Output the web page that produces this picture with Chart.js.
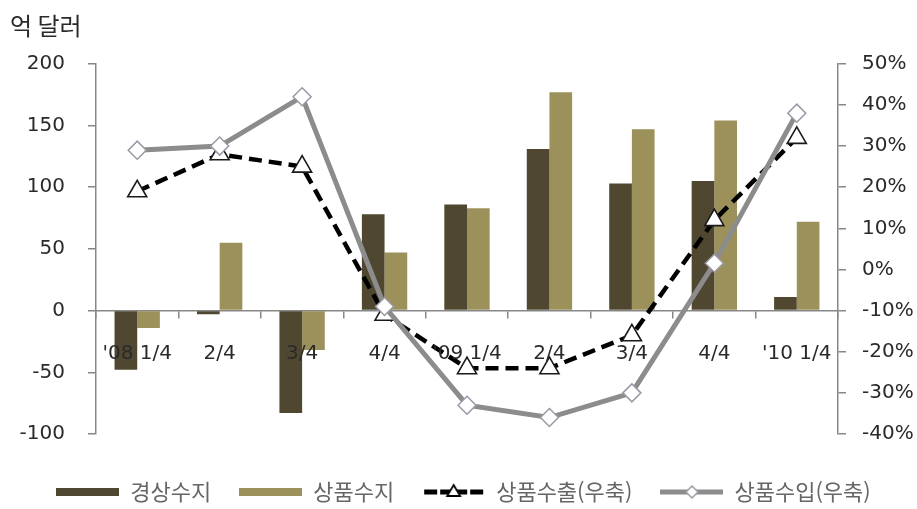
<!DOCTYPE html>
<html lang="ko">
<head>
<meta charset="utf-8">
<title>경상수지 · 상품수지 · 상품수출입</title>
<script src="https://cdn.jsdelivr.net/npm/chart.js@4.4.1/dist/chart.umd.min.js"></script>
<style>
  html, body { margin: 0; padding: 0; background: #ffffff; }
  #wrap { width: 917px; height: 509px; position: relative; }
</style>
</head>
<body>
<div id="wrap"><canvas id="chart" width="917" height="509"></canvas></div>
<script>
// Quarterly categories
const categories = ["'08 1/4", "2/4", "3/4", "4/4", "'09 1/4", "2/4", "3/4", "4/4", "'10 1/4"];

// Balances, 100 million USD (left axis)
const currentAccount = [-48, -3, -83, 78, 86, 131, 103, 105, 11];
const goodsBalance = [-14, 55, -32, 47, 83, 177, 147, 154, 72];

// Year-on-year growth, % (right axis)
const exportsGrowth = [19, 28, 25, -11, -24, -24, -16, 12, 32];
const importsGrowth = [29, 30, 42, -9, -33, -36, -30, 1.5, 38];

// Axis tick settings
const leftTicks = { min: -100, max: 200, step: 50 };
const rightTicks = { min: -40, max: 50, step: 10 };

const seriesNames = ['경상수지', '상품수지', '상품수출(우축)', '상품수입(우축)'];

const DARK = '#4f4730';
const LIGHT = '#9d915b';
const GRAY = '#8c8c8c';
const AXIS = '#878787';
const TEXT = '#2a2a2a';
const KFONT = "'Noto Sans CJK KR', 'Noto Sans', sans-serif";
const NFONT = "'DejaVu Sans', sans-serif";

// Small legend symbols
function barSymbol(color) {
  const c = document.createElement('canvas');
  c.width = 63; c.height = 20;
  const g = c.getContext('2d');
  g.fillStyle = color;
  g.fillRect(0, 6, 63, 8);
  return c;
}
function exportSymbol() {
  const c = document.createElement('canvas');
  c.width = 63; c.height = 20;
  const g = c.getContext('2d');
  g.strokeStyle = '#000';
  g.lineWidth = 5;
  g.beginPath(); g.moveTo(2, 10); g.lineTo(15, 10); g.stroke();
  g.beginPath(); g.moveTo(48, 10); g.lineTo(61, 10); g.stroke();
  g.beginPath(); g.moveTo(18, 10); g.lineTo(45, 10); g.stroke();
  g.fillStyle = '#fff';
  g.lineWidth = 1.8;
  g.beginPath();
  g.moveTo(31.5, 3); g.lineTo(38, 14); g.lineTo(25, 14); g.closePath();
  g.fill(); g.stroke();
  return c;
}
function importSymbol() {
  const c = document.createElement('canvas');
  c.width = 63; c.height = 20;
  const g = c.getContext('2d');
  g.strokeStyle = GRAY;
  g.lineWidth = 5;
  g.beginPath(); g.moveTo(0, 10); g.lineTo(63, 10); g.stroke();
  g.fillStyle = '#fff';
  g.strokeStyle = '#9a98a6';
  g.lineWidth = 1.5;
  g.beginPath();
  g.moveTo(31.5, 4); g.lineTo(37.5, 10); g.lineTo(31.5, 16); g.lineTo(25.5, 10); g.closePath();
  g.fill(); g.stroke();
  return c;
}
const legendSymbols = [barSymbol(DARK), barSymbol(LIGHT), exportSymbol(), importSymbol()];

const data = {
  labels: categories,
  datasets: [
    {
      type: 'line',
      label: seriesNames[3],
      data: importsGrowth,
      yAxisID: 'yRight',
      borderColor: GRAY,
      borderWidth: 5,
      pointStyle: 'rectRot',
      pointRadius: 9,
      pointBorderWidth: 1.5,
      pointBackgroundColor: '#ffffff',
      pointBorderColor: '#9a98a6',
      tension: 0,
      order: 0
    },
    {
      type: 'line',
      label: seriesNames[2],
      data: exportsGrowth,
      yAxisID: 'yRight',
      borderColor: '#000000',
      borderWidth: 4.5,
      borderDash: [13, 7],
      pointStyle: 'triangle',
      pointRadius: 11,
      pointBorderWidth: 1.6,
      pointBackgroundColor: '#ffffff',
      pointBorderColor: '#1a1a1a',
      tension: 0,
      order: 1
    },
    {
      type: 'bar',
      label: seriesNames[0],
      data: currentAccount,
      yAxisID: 'yLeft',
      backgroundColor: DARK,
      borderWidth: 0,
      categoryPercentage: 0.55,
      barPercentage: 1.0,
      order: 3
    },
    {
      type: 'bar',
      label: seriesNames[1],
      data: goodsBalance,
      yAxisID: 'yLeft',
      backgroundColor: LIGHT,
      borderWidth: 0,
      categoryPercentage: 0.55,
      barPercentage: 1.0,
      order: 4
    }
  ]
};

new Chart(document.getElementById('chart'), {
  data: data,
  options: {
    responsive: false,
    animation: false,
    devicePixelRatio: 1,
    layout: { padding: { left: 10, right: 0, top: 0, bottom: -4 } },
    scales: {
      x: {
        position: { yLeft: 0 },
        offset: true,
        grid: {
          display: true,
          offset: true,
          drawOnChartArea: false,
          drawTicks: true,
          tickLength: 7,
          color: AXIS,
          lineWidth: 1.5
        },
        border: { display: true, color: AXIS, width: 1.5 },
        ticks: {
          z: 1,
          color: TEXT,
          font: { family: NFONT, size: 20 },
          padding: 24,
          maxRotation: 0,
          autoSkip: false
        }
      },
      yLeft: {
        type: 'linear',
        position: 'left',
        min: leftTicks.min,
        max: leftTicks.max,
        afterFit(scale) { scale.width = 86; },
        grid: {
          drawOnChartArea: false,
          drawTicks: true,
          tickLength: 8,
          color: AXIS,
          lineWidth: 1.5
        },
        border: { display: true, color: AXIS, width: 1.5 },
        ticks: {
          stepSize: leftTicks.step,
          color: TEXT,
          font: { family: NFONT, size: 20 },
          padding: 23
        }
      },
      yRight: {
        type: 'linear',
        position: 'right',
        min: rightTicks.min,
        max: rightTicks.max,
        afterFit(scale) { scale.width = 79; },
        grid: {
          drawOnChartArea: false,
          drawTicks: true,
          tickLength: 8,
          color: AXIS,
          lineWidth: 1.5
        },
        border: { display: true, color: AXIS, width: 1.5 },
        ticks: {
          stepSize: rightTicks.step,
          color: TEXT,
          font: { family: NFONT, size: 20 },
          padding: 16,
          callback: (v) => v + '%'
        }
      }
    },
    plugins: {
      tooltip: { enabled: false },
      title: {
        display: true,
        text: '억 달러',
        align: 'start',
        color: TEXT,
        font: { family: KFONT, size: 24, weight: 'normal' },
        padding: { top: 11, bottom: 24 }
      },
      legend: {
        display: true,
        position: 'bottom',
        title: { display: true, text: '', padding: { top: 7, bottom: 0 }, font: { size: 10 } },
        labels: {
          usePointStyle: true,
          pointStyleWidth: 63,
          padding: 28,
          color: TEXT,
          font: { family: KFONT, size: 22 },
          generateLabels() {
            return seriesNames.map((name, i) => ({
              text: name,
              pointStyle: legendSymbols[i],
              fillStyle: 'transparent',
              strokeStyle: 'transparent',
              lineWidth: 0,
              hidden: false,
              datasetIndex: i
            }));
          }
        }
      }
    }
  }
});
</script>
</body>
</html>
